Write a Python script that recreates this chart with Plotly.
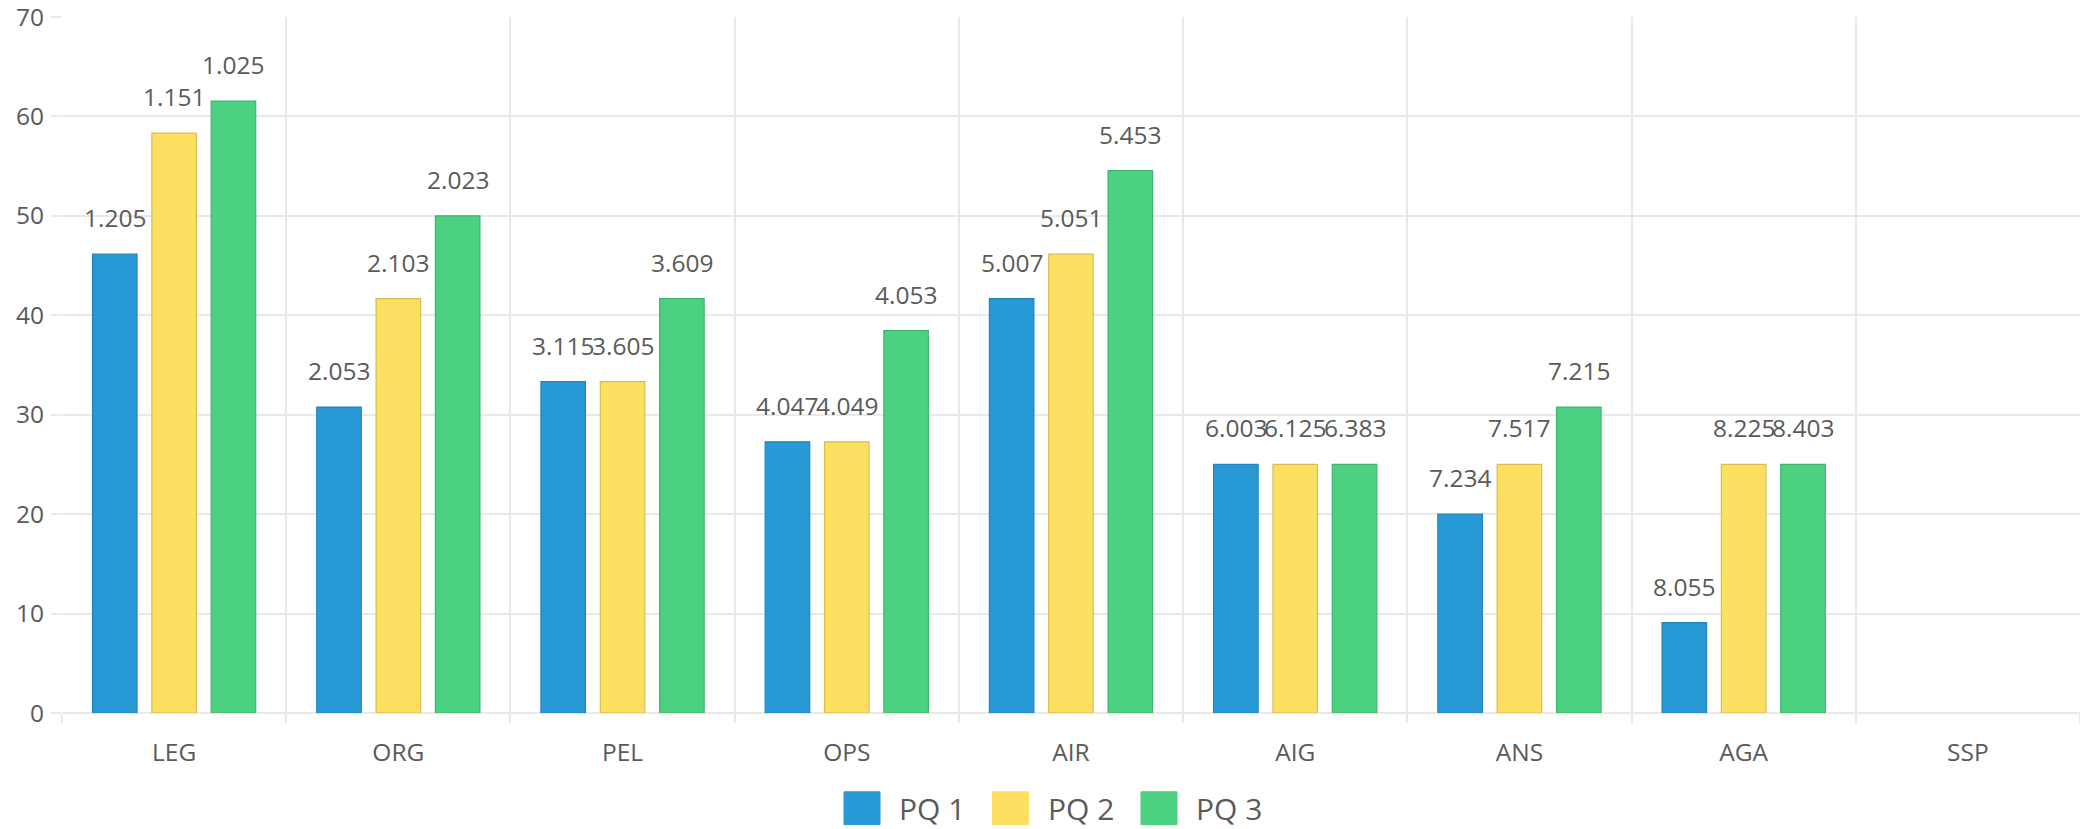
import plotly.graph_objects as go

# Categories along the x axis
categories = ["LEG", "ORG", "PEL", "OPS", "AIR", "AIG", "ANS", "AGA", "SSP"]

# Bar heights per series (SSP has no data)
pq1_values = [46.15, 30.77, 33.33, 27.27, 41.67, 25.0, 20.0, 9.09, None]
pq2_values = [58.33, 41.67, 33.33, 27.27, 46.15, 25.0, 25.0, 25.0, None]
pq3_values = [61.54, 50.0, 41.67, 38.46, 54.55, 25.0, 30.77, 25.0, None]

# Text shown above each bar
pq1_labels = ["1.205", "2.053", "3.115", "4.047", "5.007", "6.003", "7.234", "8.055", ""]
pq2_labels = ["1.151", "2.103", "3.605", "4.049", "5.051", "6.125", "7.517", "8.225", ""]
pq3_labels = ["1.025", "2.023", "3.609", "4.053", "5.453", "6.383", "7.215", "8.403", ""]

series_names = ["PQ 1", "PQ 2", "PQ 3"]
y_ticks = [0, 10, 20, 30, 40, 50, 60, 70]

fills = ["#279AD6", "#FDE062", "#4CD181"]
edges = ["#2383BD", "#D9BC52", "#3FB56C"]

W, H = 2080, 829
M_L, M_R, M_T, M_B = 62, 0, 15, 116
BARGAP, GROUPGAP = 0.206, 0.25
FONT = "Open Sans, Noto Sans, sans-serif"
GRID = "#E9E9E9"
TXT = "#5A5A5A"

fig = go.Figure()
all_vals = [pq1_values, pq2_values, pq3_values]
all_labels = [pq1_labels, pq2_labels, pq3_labels]
for name, vals, fc, ec in zip(series_names, all_vals, fills, edges):
    fig.add_trace(go.Bar(
        x=categories, y=vals, name=name,
        marker=dict(color=fc, line=dict(color=ec, width=1.2)),
        showlegend=False,
    ))

# Value labels above bars, offset horizontally to each bar slot in the group
plot_w = W - M_L - M_R
band = plot_w / len(categories)
slot = band * (1 - BARGAP) / len(series_names)
annotations = []
for i, (vals, labels) in enumerate(zip(all_vals, all_labels)):
    shift = (i - (len(series_names) - 1) / 2) * slot
    for cat, v, lab in zip(categories, vals, labels):
        if v is None or not lab:
            continue
        annotations.append(dict(
            x=cat, y=v, xref="x", yref="y", text=lab, showarrow=False,
            xshift=shift, yshift=18, yanchor="bottom", xanchor="center",
            font=dict(family=FONT, size=24.5, color=TXT),
        ))

# Legend drawn with square swatches and labels under the plot
shapes = []
legend_x0 = 844      # left edge of the first swatch, px
legend_step = 148.5  # distance between entries, px
sw_w, sw_h = 36, 33
sw_top = 792
for i, (name, fc) in enumerate(zip(series_names, fills)):
    x0 = legend_x0 + i * legend_step
    shapes.append(dict(
        type="rect", xref="paper", yref="paper",
        x0=(x0 - M_L) / plot_w, x1=(x0 + sw_w - M_L) / plot_w,
        y0=(H - M_B - (sw_top + sw_h)) / (H - M_T - M_B),
        y1=(H - M_B - sw_top) / (H - M_T - M_B),
        fillcolor=fc, line=dict(color=fc, width=1), layer="above",
    ))
    annotations.append(dict(
        xref="paper", yref="paper",
        x=(x0 + sw_w + 17 - M_L) / plot_w,
        y=(H - M_B - (sw_top + sw_h / 2)) / (H - M_T - M_B),
        text=name, showarrow=False, xanchor="left", yanchor="middle",
        font=dict(family=FONT, size=30, color=TXT),
    ))

fig.update_layout(
    width=W, height=H,
    margin=dict(l=M_L, r=M_R, t=M_T, b=M_B, pad=0),
    barmode="group", bargap=BARGAP, bargroupgap=GROUPGAP,
    plot_bgcolor="white", paper_bgcolor="white",
    font=dict(family=FONT, size=24, color=TXT),
    annotations=annotations, shapes=shapes,
    showlegend=False,
)
fig.update_xaxes(
    type="category", categoryorder="array", categoryarray=categories,
    range=[-0.5, len(categories) - 0.5],
    tickson="boundaries", showgrid=True, gridcolor=GRID, gridwidth=1.5,
    ticks="outside", ticklen=9, tickcolor=GRID, tickwidth=1.5,
    showline=False, zeroline=False, ticklabelstandoff=22,
    tickfont=dict(family=FONT, size=24.5, color=TXT),
)
fig.update_yaxes(
    range=[0, 70], tickvals=y_ticks, ticktext=[str(t) for t in y_ticks],
    showgrid=True, gridcolor=GRID, gridwidth=1.5,
    ticks="outside", ticklen=10, tickcolor=GRID, tickwidth=1.5,
    zeroline=True, zerolinecolor=GRID, zerolinewidth=1.5,
    showline=False, ticklabelstandoff=2, ticklabeloverflow="allow",
    tickfont=dict(family=FONT, size=24.5, color=TXT),
)

fig.write_html("out.html")
